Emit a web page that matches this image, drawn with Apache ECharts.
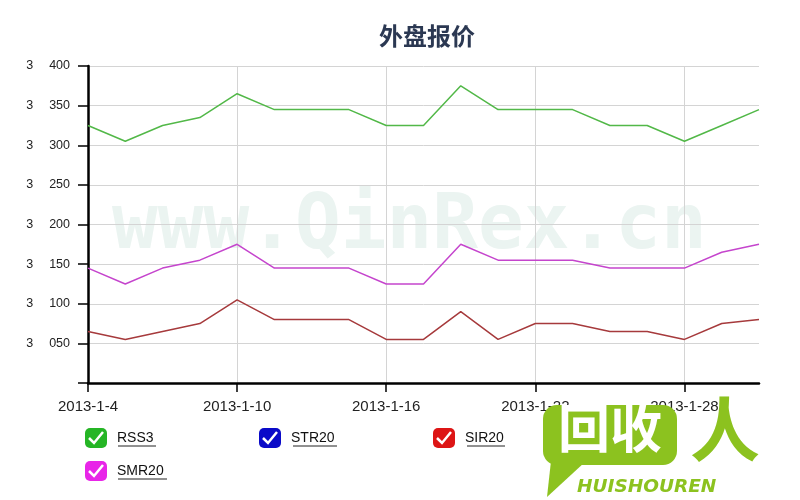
<!DOCTYPE html>
<html>
<head>
<meta charset="utf-8">
<script src="https://cdn.jsdelivr.net/npm/echarts@6/dist/echarts.min.js"></script>
<style>html,body{margin:0;padding:0;background:#fff}#c{width:800px;height:500px}</style>
</head>
<body>
<div id="c"></div>
<script>
// ---- data ----
const dates = ['2013-1-4','2013-1-7','2013-1-8','2013-1-9','2013-1-10','2013-1-11','2013-1-14','2013-1-15','2013-1-16','2013-1-17','2013-1-18','2013-1-21','2013-1-22','2013-1-23','2013-1-24','2013-1-25','2013-1-28','2013-1-29','2013-1-30'];
const rss3  = [3325,3305,3325,3335,3365,3345,3345,3345,3325,3325,3375,3345,3345,3345,3325,3325,3305,3325,3345];
const str20 = [];
const sir20 = [3065,3055,3065,3075,3105,3080,3080,3080,3055,3055,3090,3055,3075,3075,3065,3065,3055,3075,3080];
const smr20 = [3145,3125,3145,3155,3175,3145,3145,3145,3125,3125,3175,3155,3155,3155,3145,3145,3145,3165,3175];
const seriesNames = ['RSS3','STR20','SIR20','SMR20'];
const yTicks = [3000,3050,3100,3150,3200,3250,3300,3350,3400];
const titleText = '外盘报价';
const watermarkText = 'www.QinRex.cn';

const colors = {RSS3:'#52b848', STR20:'#0b12c8', SIR20:'#a63a3c', SMR20:'#c545cd'};
const iconColors = {RSS3:'#25b525', STR20:'#0a0ac8', SIR20:'#dd1515', SMR20:'#e825e8'};

const chart = echarts.init(document.getElementById('c'));

const legendPos = [
  {name:'RSS3', left:85, top:428},
  {name:'STR20', left:259, top:428},
  {name:'SIR20', left:433, top:428},
  {name:'SMR20', left:85, top:461}
];
const legends = legendPos.map(p => ({
  data:[{name:p.name, itemStyle:{color:iconColors[p.name]}}],
  left:p.left, top:p.top, padding:0, orient:'horizontal',
  icon:'roundRect', itemWidth:22, itemHeight:20, selectedMode:false,
  textStyle:{fontSize:14, color:'#111', fontFamily:'Liberation Sans', padding:[0,0,0,5]}
}));

function fmtY(v){ if (v === yTicks[0]) return ''; const s = String(v); return s.slice(0, s.length-3) + ' \u2003' + s.slice(-3); }

const graphics = [];
// watermark
graphics.push({type:'text', left:112, top:190, z:-10, silent:true,
  style:{text:watermarkText, font:'bold 76px "DejaVu Sans Mono"', fill:'#ebf4f1'}});
// checkmarks & underlines for legend
const underline = {RSS3:[118,156,446], STR20:[293,337,446], SIR20:[467,505,446], SMR20:[118,167,479]};
legendPos.forEach(p => {
  const x = p.left, y = p.top;
  graphics.push({type:'polyline', silent:true, z:100,
    shape:{points:[[x+4,y+10],[x+9,y+15],[x+18,y+4]]},
    style:{stroke:'#fff', lineWidth:2.5, fill:null}});
  const u = underline[p.name];
  graphics.push({type:'line', silent:true, z:100,
    shape:{x1:u[0], y1:u[2], x2:u[1], y2:u[2]}, style:{stroke:'#222', lineWidth:1}});
});
// logo overlay
const green = '#8cc21f';
graphics.push({type:'polygon', silent:true, z:200, shape:{points:[[552,452],[547,497],[585,462]]}, style:{fill:green}});
graphics.push({type:'rect', silent:true, z:200, shape:{x:543, y:405, width:134, height:60, r:14}, style:{fill:green}});
graphics.push({type:'text', silent:true, z:201, left:558, top:402,
  style:{text:'回收', font:'bold 52px "Noto Sans CJK SC"', fill:'#fff'}});
graphics.push({type:'text', silent:true, z:201, left:690, top:394,
  style:{text:'人', font:'bold 70px "Noto Sans CJK SC"', fill:green}});
graphics.push({type:'text', silent:true, z:201, left:577, top:478,
  style:{text:'HUISHOUREN', font:'italic bold 18.5px "DejaVu Sans"', fill:green}});

const option = {
  animation:false,
  backgroundColor:'#fff',
  title:{text:titleText, left:422, top:19, textAlign:'center',
    textStyle:{fontSize:24, fontWeight:'bold', color:'#2b3852', fontFamily:'Noto Sans CJK SC'}},
  legend: legends,
  grid:{left:88, right:41, top:66, bottom:117, containLabel:false},
  xAxis:{type:'category', data:dates, boundaryGap:false,
    axisLine:{lineStyle:{color:'#000', width:2.5}},
    axisTick:{show:true, interval:3, length:9, lineStyle:{color:'#000', width:1.5}},
    axisLabel:{interval:3, color:'#222', fontSize:15, fontFamily:'Liberation Sans', margin:16},
    splitLine:{show:true, interval:3, lineStyle:{color:'#d4d4d4', width:1}}
  },
  yAxis:{type:'value', min:yTicks[0], max:yTicks[yTicks.length-1], interval:50,
    axisLine:{show:true, lineStyle:{color:'#000', width:2.5}},
    axisTick:{show:true, length:10, lineStyle:{color:'#000', width:1.5}},
    axisLabel:{color:'#222', fontSize:12.5, fontFamily:'Liberation Sans', margin:18, formatter:fmtY},
    splitLine:{show:true, lineStyle:{color:'#d4d4d4', width:1}}
  },
  graphic: graphics,
  series:[
    {name:'RSS3', type:'line', data:rss3, showSymbol:false, symbol:'none', lineStyle:{color:colors.RSS3, width:1.5}, itemStyle:{color:colors.RSS3}, z:3},
    {name:'STR20', type:'line', data:str20, showSymbol:false, symbol:'none', lineStyle:{color:colors.STR20, width:1.5}, itemStyle:{color:colors.STR20}, z:3},
    {name:'SIR20', type:'line', data:sir20, showSymbol:false, symbol:'none', lineStyle:{color:colors.SIR20, width:1.5}, itemStyle:{color:colors.SIR20}, z:3},
    {name:'SMR20', type:'line', data:smr20, showSymbol:false, symbol:'none', lineStyle:{color:colors.SMR20, width:1.5}, itemStyle:{color:colors.SMR20}, z:3}
  ]
};
chart.setOption(option);
</script>
</body>
</html>
